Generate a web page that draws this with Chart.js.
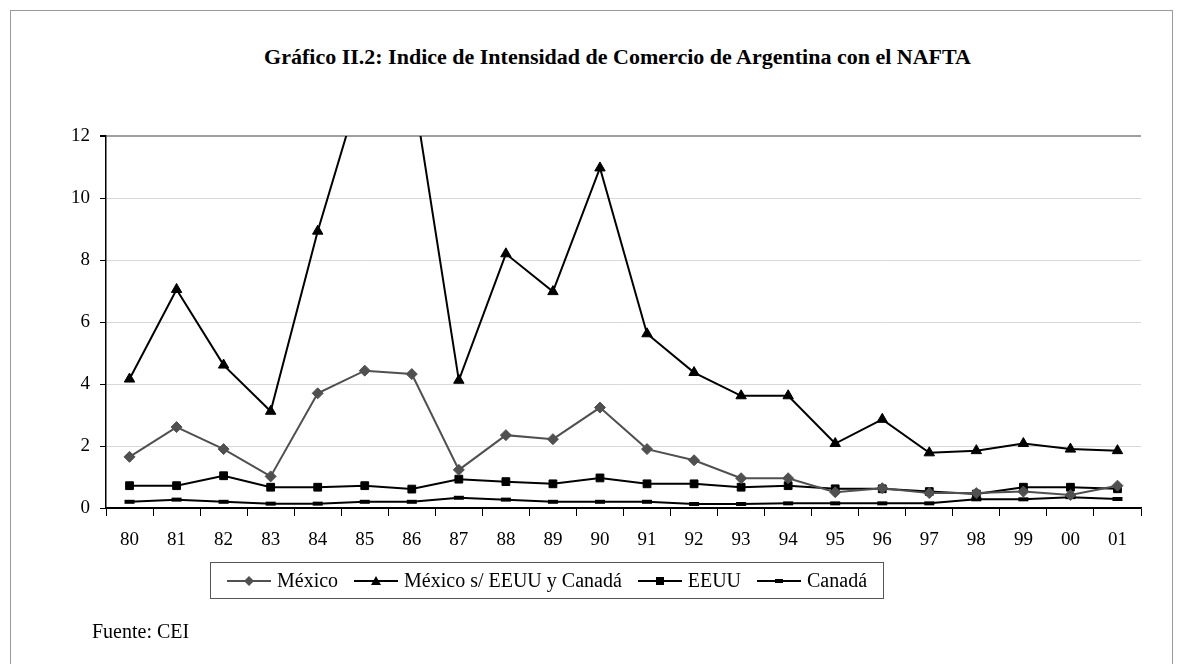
<!DOCTYPE html>
<html>
<head>
<meta charset="utf-8">
<script src="https://cdn.jsdelivr.net/npm/chart.js@4/dist/chart.umd.min.js"></script>
<style>
  body { margin: 0; background: #fff; font-family: "Liberation Serif", "DejaVu Serif", serif; }
  #wrap { position: relative; width: 1182px; height: 664px; overflow: hidden; }
  #frame { position: absolute; left: 10px; top: 10px; width: 1161px; height: 700px; border: 1px solid #9a9a9a; }
  #title { position: absolute; left: 53px; top: 44px; width: 1129px; text-align: center; font-weight: bold; font-size: 22px; color: #000; }
  #legend { position: absolute; left: 210px; top: 562px; width: 674px; height: 37px; border: 1px solid #555;
            display: flex; align-items: center; justify-content: space-evenly; font-size: 20px; box-sizing: border-box; }
  #legend span.item { display: flex; align-items: center; }
  #legend svg { margin-right: 6px; }
  #source { position: absolute; left: 92px; top: 620px; font-size: 20px; }
  canvas { position: absolute; left: 0; top: 0; }
</style>
</head>
<body>
<div id="wrap">
  <div id="frame"></div>
  <div id="title">Gráfico II.2: Indice de Intensidad de Comercio de Argentina con el NAFTA</div>
  <canvas id="chart" width="1182" height="664"></canvas>
  <div id="legend"></div>
  <div id="source">Fuente: CEI</div>
</div>
<script>
// Years 1980-2001
const years = ["80", "81", "82", "83", "84", "85", "86", "87", "88", "89", "90",
               "91", "92", "93", "94", "95", "96", "97", "98", "99", "00", "01"];

const mexico = [1.65, 2.61, 1.9, 1.02, 3.7, 4.43, 4.32, 1.23, 2.35, 2.22, 3.24,
                1.9, 1.54, 0.96, 0.96, 0.51, 0.64, 0.48, 0.48, 0.53, 0.42, 0.72];

const mexicoSinNA = [4.16, 7.05, 4.61, 3.12, 8.93, 14.0, 13.8, 4.12, 8.2, 6.98, 10.97,
                     5.62, 4.37, 3.62, 3.62, 2.08, 2.86, 1.78, 1.85, 2.08, 1.9, 1.85];

const eeuu = [0.72, 0.72, 1.04, 0.67, 0.67, 0.72, 0.61, 0.93, 0.85, 0.78, 0.97,
              0.78, 0.78, 0.67, 0.72, 0.62, 0.62, 0.53, 0.45, 0.67, 0.67, 0.62];

const canada = [0.2, 0.27, 0.2, 0.14, 0.14, 0.2, 0.2, 0.33, 0.27, 0.2, 0.2,
                0.2, 0.13, 0.13, 0.15, 0.15, 0.15, 0.15, 0.28, 0.28, 0.35, 0.29];

const yTicks = [0, 2, 4, 6, 8, 10, 12];

const series = [
    { label: "México", data: mexico, color: "#505050", style: "rectRot", radius: 5.5, bw: 1 },
    { label: "México s/ EEUU y Canadá", data: mexicoSinNA, color: "#000", style: "triangle", radius: 6, bw: 1 },
    { label: "EEUU", data: eeuu, color: "#000", style: "rect", radius: 5.5, bw: 1 },
    { label: "Canadá", data: canada, color: "#000", style: "line", radius: 5, bw: 4 }
];

const ctx = document.getElementById("chart").getContext("2d");

new Chart(ctx, {
    type: "line",
    data: {
        labels: years,
        datasets: series.map(s => ({
            label: s.label,
            data: s.data,
            borderColor: s.color,
            backgroundColor: s.color,
            borderWidth: 2,
            pointStyle: s.style,
            pointRadius: s.radius,
            pointBorderWidth: s.bw,
            pointBackgroundColor: s.color,
            pointBorderColor: s.color,
            tension: 0
        }))
    },
    options: {
        responsive: false,
        animation: false,
        layout: { padding: { left: 44, top: 136, right: 41, bottom: 102 } },
        plugins: {
            legend: { display: false },
            title: { display: false },
            tooltip: { enabled: false }
        },
        scales: {
            x: {
                offset: true,
                grid: { offset: true, drawOnChartArea: false, tickLength: 8, tickColor: "#000", tickWidth: 1 },
                border: { color: "#000", width: 1.5 },
                ticks: { color: "#000", font: { family: "Liberation Serif", size: 19 }, padding: 13 },
                afterFit: scale => { scale.height = 54; }
            },
            y: {
                min: 0,
                max: 12,
                afterBuildTicks: scale => { scale.ticks = yTicks.map(v => ({ value: v })); },
                grid: {
                    color: c => c.tick && c.tick.value === 12 ? "#a0a0a0" : (c.tick && c.tick.value === 0 ? "#000" : "#d8d8d8"),
                    lineWidth: c => c.tick && c.tick.value === 12 ? 2 : 1,
                    tickLength: 6,
                    tickColor: "#000"
                },
                border: { color: "#000", width: 1.5 },
                ticks: { color: "#000", font: { family: "Liberation Serif", size: 19 }, padding: 10 },
                afterFit: scale => { scale.width = 62; }
            }
        }
    }
});

// Legend with line + marker samples
const legend = document.getElementById("legend");
function markerSvg(s) {
    const c = s.color;
    let m = "";
    if (s.style === "rectRot") m = `<polygon points="22,1 27,6 22,11 17,6" fill="${c}"/>`;
    if (s.style === "triangle") m = `<polygon points="22,1 27,10 17,10" fill="${c}"/>`;
    if (s.style === "rect") m = `<rect x="18" y="2" width="8" height="8" fill="${c}"/>`;
    if (s.style === "line") m = `<rect x="18" y="4" width="8" height="4" fill="${c}"/>`;
    return `<svg width="44" height="12"><line x1="0" y1="6" x2="44" y2="6" stroke="${c}" stroke-width="2"/>${m}</svg>`;
}
series.forEach(s => {
    legend.innerHTML += `<span class="item">${markerSvg(s)}<span>${s.label}</span></span>`;
});
</script>
</body>
</html>
